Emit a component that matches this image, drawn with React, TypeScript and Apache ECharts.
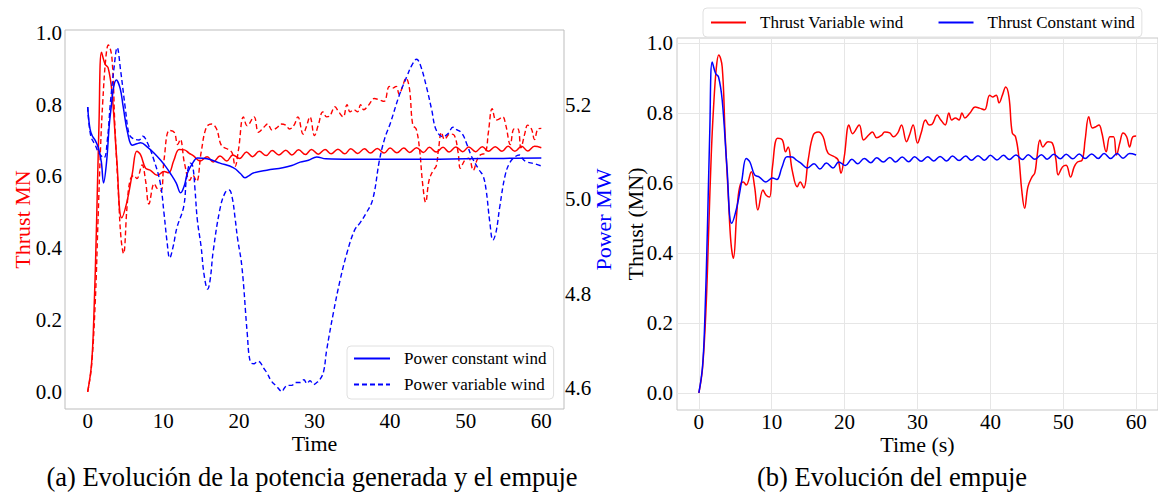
import React, { useEffect, useRef } from "react";
import * as echarts from "echarts";

// ---- Data ----
const timeTicks = [0, 10, 20, 30, 40, 50, 60];
const thrustTicks = [0, 0.2, 0.4, 0.6, 0.8, 1.0];
const powerTicks = [4.6, 4.8, 5.0, 5.2];

const thrustConstTime = [
  0, 0.5, 0.8, 1.17, 1.5, 1.83, 2.3, 2.7, 3.2, 3.85, 4.5, 5.2, 5.9, 6.5, 7.0, 7.65, 8.3, 9.2, 10.1, 10.7, 11.4,
  12.1, 12.8, 13.4, 14.0, 14.9, 15.8, 16.6, 17.5, 18.4, 19.2, 20.1, 21.0, 21.8, 22.7, 23.6, 24.4, 25.3, 26.2,
  27.0, 27.9, 28.8, 29.6, 30.5, 31.4, 32.2, 33.1, 34.0, 34.8, 35.7, 36.6, 37.4, 38.3, 39.2, 40.0, 40.9, 41.8,
  42.6, 43.5, 44.4, 45.2, 46.1, 47.0, 47.8, 48.7, 49.6, 50.4, 51.3, 52.2, 53.0, 53.9, 54.8, 55.6, 56.5, 57.4,
  58.2, 59.1, 60.0,
];
const thrustConstValues = [
  0, 0.075, 0.2, 0.466, 0.75, 0.946, 0.913, 0.903, 0.837, 0.647, 0.485, 0.53, 0.608, 0.67, 0.66, 0.623, 0.617,
  0.603, 0.614, 0.61, 0.645, 0.675, 0.674, 0.665, 0.657, 0.643, 0.655, 0.64, 0.657, 0.643, 0.66, 0.65, 0.668,
  0.655, 0.67, 0.658, 0.672, 0.66, 0.673, 0.66, 0.674, 0.661, 0.675, 0.662, 0.675, 0.663, 0.676, 0.663, 0.677,
  0.664, 0.677, 0.665, 0.678, 0.665, 0.679, 0.666, 0.679, 0.667, 0.68, 0.667, 0.681, 0.668, 0.681, 0.668, 0.682,
  0.669, 0.682, 0.669, 0.683, 0.67, 0.683, 0.67, 0.684, 0.67, 0.684, 0.671, 0.684, 0.68,
];

const thrustVarTime = [
  0, 0.5, 1.0, 1.35, 1.7, 2.0, 2.4, 2.73, 3.2, 3.6, 4.07, 4.4, 4.74, 5.2, 5.6, 6.1, 6.5, 7.2, 7.65, 8.1, 8.8, 9.2,
  9.7, 10.1, 10.8, 11.45, 11.9, 12.25, 12.8, 13.5, 13.9, 14.4, 15.0, 15.7, 16.4, 17.05, 17.7, 18.6, 19.1, 19.5,
  19.95, 20.6, 21.1, 22.0, 22.6, 23.3, 23.8, 24.4, 25.1, 25.5, 26.2, 26.7, 27.3, 27.8, 28.5, 28.9, 29.4, 30.0,
  30.5, 31.1, 31.6, 32.0, 32.7, 33.2, 33.8, 34.3, 34.7, 35.2, 35.7, 36.1, 36.5, 37.2, 37.9, 38.5, 39.2, 39.9,
  40.3, 40.8, 41.2, 41.65, 42.1, 42.55, 43.0, 43.45, 43.9, 44.3, 44.7, 45.15, 45.7, 46.1, 46.4, 46.8, 47.2,
  47.9, 48.5, 49.0, 49.3, 49.9, 50.4, 51.0, 51.5, 51.95, 52.6, 53.0, 53.5, 54.0, 54.4, 54.9, 55.3, 55.9, 56.4,
  56.9, 57.3, 57.8, 58.2, 58.7, 59.1, 59.55, 60.0,
];
const thrustVarValues = [
  0, 0.07, 0.25, 0.466, 0.68, 0.81, 0.93, 0.966, 0.932, 0.74, 0.551, 0.43, 0.385, 0.514, 0.589, 0.603, 0.594,
  0.632, 0.589, 0.523, 0.58, 0.566, 0.56, 0.646, 0.728, 0.723, 0.689, 0.703, 0.637, 0.589, 0.603, 0.586, 0.666,
  0.737, 0.746, 0.732, 0.686, 0.675, 0.666, 0.628, 0.675, 0.766, 0.741, 0.766, 0.723, 0.737, 0.746, 0.729, 0.737,
  0.746, 0.743, 0.732, 0.743, 0.766, 0.718, 0.737, 0.766, 0.714, 0.743, 0.78, 0.766, 0.768, 0.794, 0.78, 0.766,
  0.8, 0.78, 0.786, 0.78, 0.8, 0.786, 0.8, 0.817, 0.814, 0.809, 0.851, 0.846, 0.851, 0.829, 0.851, 0.874, 0.846,
  0.743, 0.732, 0.675, 0.58, 0.528, 0.589, 0.617, 0.629, 0.675, 0.723, 0.703, 0.718, 0.714, 0.666, 0.623, 0.646,
  0.651, 0.617, 0.646, 0.66, 0.666, 0.723, 0.789, 0.757, 0.76, 0.766, 0.743, 0.689, 0.732, 0.732, 0.68, 0.718,
  0.743, 0.732, 0.703, 0.732, 0.734,
];

const powerConstTime = [
  0, 0.3, 0.6, 1.0, 1.4, 1.8, 2.1, 2.5, 3.0, 3.8, 4.3, 4.7, 5.3, 5.9, 6.5, 7.0, 7.9, 8.8, 9.6, 10.3, 10.9, 11.7,
  12.3, 12.8, 13.2, 14.0, 14.5, 15.8, 17.5, 19.3, 20.2, 20.8, 21.3, 21.9, 23.7, 25.8, 27.0, 28.1, 29.2, 30.3,
  31.5, 35.0, 40.0, 45.0, 50.0, 55.0, 60.0,
];
const powerConstValues = [
  5.196, 5.15, 5.135, 5.125, 5.11, 5.08, 5.035, 5.08, 5.18, 5.253, 5.235, 5.196, 5.14, 5.115, 5.118, 5.12, 5.111,
  5.098, 5.084, 5.07, 5.056, 5.035, 5.014, 5.03, 5.056, 5.08, 5.088, 5.086, 5.077, 5.067, 5.055, 5.046, 5.05,
  5.056, 5.062, 5.067, 5.072, 5.079, 5.083, 5.09, 5.086, 5.085, 5.085, 5.085, 5.086, 5.087, 5.088,
];

const powerVarTime = [
  0, 0.4, 1.0, 1.5, 2.15, 2.6, 3.0, 3.5, 3.9, 4.35, 5.0, 5.45, 5.9, 6.8, 7.3, 7.9, 8.75, 9.6, 10.1, 10.5, 10.85,
  11.3, 11.8, 12.7, 13.1, 13.6, 13.9, 14.2, 14.5, 15.0, 15.4, 15.87, 16.2, 16.6, 17.5, 18.2, 18.7, 19.1, 19.5,
  19.8, 20.4, 21.1, 21.5, 22.0, 22.5, 22.8, 23.3, 23.7, 24.3, 25.0, 25.7, 26.0, 26.4, 27.0, 27.5, 28.1, 28.6,
  29.0, 29.4, 29.9, 30.3, 30.7, 31.2, 31.6, 32.5, 33.4, 34.3, 35.3, 36.0, 36.8, 37.7, 38.6, 39.3, 40.0, 41.2,
  42.2, 42.9, 43.5, 44.0, 44.8, 45.5, 46.1, 47.0, 47.7, 48.3, 48.8, 49.5, 50.2, 50.8, 51.8, 52.3, 52.7, 53.2,
  53.6, 54.0, 54.5, 55.2, 55.8, 56.5, 57.1, 57.6, 58.0, 59.0, 60.0,
];
const powerVarValues = [
  5.196, 5.135, 5.115, 5.098, 5.088, 5.126, 5.204, 5.281, 5.322, 5.274, 5.19, 5.14, 5.13, 5.126, 5.134, 5.12,
  5.084, 5.035, 4.97, 4.91, 4.876, 4.9, 4.94, 4.985, 5.048, 5.077, 5.07, 5.02, 4.957, 4.9, 4.84, 4.81, 4.83,
  4.89, 4.98, 5.015, 5.02, 5.005, 4.96, 4.92, 4.857, 4.717, 4.656, 4.652, 4.657, 4.655, 4.642, 4.633, 4.615,
  4.604, 4.593, 4.6, 4.606, 4.606, 4.612, 4.612, 4.618, 4.61, 4.616, 4.608, 4.612, 4.618, 4.635, 4.68, 4.76,
  4.83, 4.887, 4.935, 4.95, 4.97, 5.0, 5.084, 5.13, 5.16, 5.22, 5.26, 5.285, 5.297, 5.285, 5.239, 5.19, 5.147,
  5.133, 5.14, 5.153, 5.148, 5.14, 5.115, 5.09, 5.062, 5.05, 5.02, 4.95, 4.914, 4.93, 4.984, 5.05, 5.077, 5.09,
  5.094, 5.085, 5.08, 5.076, 5.071,
];

const FONT = "Liberation Serif";
const RED = "#ff0000";
const BLUE = "#0000ff";

const zip = (t: number[], v: number[]) => t.map((x, i) => [x, v[i]]);

const tickText = { fontFamily: FONT, fontSize: 21, color: "#000" };

function buildOption(): any {
  const legendCommon = {
    backgroundColor: "#ffffff",
    borderColor: "#e0e0e0",
    borderWidth: 1,
    borderRadius: 4,
    itemStyle: { opacity: 0 },
    textStyle: { fontFamily: FONT, fontSize: 17, color: "#000", padding: [0, 0, 0, 9] },
  };
  const xLabel = { ...tickText, lineHeight: 16, margin: 3.5, customValues: timeTicks, formatter: (v: number) => String(v) };
  const xName = { fontFamily: FONT, fontSize: 22, lineHeight: 16, color: "#000" };
  return {
    animation: false,
    backgroundColor: "#ffffff",
    grid: [
      { left: 65, top: 30, width: 499, height: 379, show: true, borderColor: "#bdbdbd", borderWidth: 1, backgroundColor: "transparent" },
      { left: 677, top: 38, width: 490, height: 372, show: true, borderColor: "#c8c8c8", borderWidth: 1, backgroundColor: "transparent" },
    ],
    xAxis: [
      {
        type: "value", gridIndex: 0, min: -3, max: 63,
        axisLine: { show: false }, axisTick: { show: false, customValues: timeTicks },
        axisLabel: xLabel,
        splitLine: { show: false },
        name: "Time", nameLocation: "middle", nameGap: 26, nameMoveOverlap: false,
        nameTextStyle: xName,
      },
      {
        type: "value", gridIndex: 1, min: -3, max: 63,
        axisLine: { show: false }, axisTick: { show: false, customValues: timeTicks },
        axisLabel: xLabel,
        splitLine: { show: true, lineStyle: { color: "#e6e6e6", width: 1 } },
        name: "Time (s)", nameLocation: "middle", nameGap: 26, nameMoveOverlap: false,
        nameTextStyle: xName,
      },
    ],
    yAxis: [
      {
        type: "value", gridIndex: 0, min: -0.048, max: 1.008,
        axisLine: { show: false }, axisTick: { show: false, customValues: thrustTicks },
        axisLabel: { ...tickText, margin: 3, customValues: thrustTicks, formatter: (v: number) => v.toFixed(1) },
        splitLine: { show: false },
        name: "Thrust MN", nameLocation: "middle", nameGap: 32, nameMoveOverlap: false,
        nameTextStyle: { fontFamily: FONT, fontSize: 22, color: RED },
      },
      {
        type: "value", gridIndex: 0, position: "right", min: 4.556, max: 5.359,
        axisLine: { show: false }, axisTick: { show: false, customValues: powerTicks },
        axisLabel: { ...tickText, margin: 1, customValues: powerTicks, formatter: (v: number) => v.toFixed(1) },
        splitLine: { show: false },
        name: "Power MW", nameLocation: "middle", nameGap: 28, nameMoveOverlap: false,
        nameTextStyle: { fontFamily: FONT, fontSize: 22, color: BLUE },
      },
      {
        type: "value", gridIndex: 1, min: -0.0486, max: 1.0143,
        axisLine: { show: false }, axisTick: { show: false, customValues: thrustTicks },
        axisLabel: { ...tickText, margin: 4, customValues: thrustTicks, formatter: (v: number) => v.toFixed(1) },
        splitLine: { show: true, lineStyle: { color: "#e6e6e6", width: 1 } },
        name: "Thrust (MN)", nameLocation: "middle", nameGap: 31, nameMoveOverlap: false,
        nameTextStyle: { fontFamily: FONT, fontSize: 22, color: "#000" },
      },
    ],
    legend: [
      {
        ...legendCommon,
        data: ["Power constant wind", "Power variable wind"],
        orient: "vertical", left: 347, top: 346,
        itemWidth: 36, itemHeight: 12, itemGap: 9,
        padding: [4, 7, 6, 6],
      },
      {
        ...legendCommon,
        data: ["Thrust Variable wind", "Thrust Constant wind"],
        orient: "horizontal", left: 703, top: 8,
        itemWidth: 35, itemHeight: 12, itemGap: 34,
        padding: [6, 7, 6, 7],
      },
    ],
    graphic: [
      {
        type: "text", x: 312, y: 477,
        style: { text: "(a) Evolución de la potencia generada y el empuje", fontFamily: FONT, fontSize: 26.5, fill: "#000", align: "center", verticalAlign: "middle" },
      },
      {
        type: "text", x: 892, y: 477,
        style: { text: "(b) Evolución del empuje", fontFamily: FONT, fontSize: 26.5, fill: "#000", align: "center", verticalAlign: "middle" },
      },
    ],
    series: [
      {
        name: "Thrust constant wind (a)", type: "line", xAxisIndex: 0, yAxisIndex: 0,
        data: zip(thrustConstTime, thrustConstValues), symbol: "none", smooth: 0.4,
        lineStyle: { color: RED, width: 1.5 }, itemStyle: { color: RED },
      },
      {
        name: "Thrust variable wind (a)", type: "line", xAxisIndex: 0, yAxisIndex: 0,
        data: zip(thrustVarTime, thrustVarValues), symbol: "none", smooth: 0.4,
        lineStyle: { color: RED, width: 1.4, type: [5, 3] }, itemStyle: { color: RED },
      },
      {
        name: "Power constant wind", type: "line", xAxisIndex: 0, yAxisIndex: 1,
        data: zip(powerConstTime, powerConstValues), symbol: "none", smooth: 0.4,
        lineStyle: { color: BLUE, width: 1.5 }, itemStyle: { color: BLUE },
      },
      {
        name: "Power variable wind", type: "line", xAxisIndex: 0, yAxisIndex: 1,
        data: zip(powerVarTime, powerVarValues), symbol: "none", smooth: 0.4,
        lineStyle: { color: BLUE, width: 1.4, type: [5, 3] }, itemStyle: { color: BLUE },
      },
      {
        name: "Thrust Variable wind", type: "line", xAxisIndex: 1, yAxisIndex: 2,
        data: zip(thrustVarTime, thrustVarValues), symbol: "none", smooth: 0.4,
        lineStyle: { color: RED, width: 1.5 }, itemStyle: { color: RED },
      },
      {
        name: "Thrust Constant wind", type: "line", xAxisIndex: 1, yAxisIndex: 2,
        data: zip(thrustConstTime, thrustConstValues), symbol: "none", smooth: 0.4,
        lineStyle: { color: BLUE, width: 1.5 }, itemStyle: { color: BLUE },
      },
    ],
  };
}

export default function App() {
  const ref = useRef<HTMLDivElement>(null);
  useEffect(() => {
    if (!ref.current) return;
    const chart = echarts.init(ref.current, null, { renderer: "svg" });
    chart.setOption(buildOption());
    return () => chart.dispose();
  }, []);
  return (
    <div
      ref={ref}
      style={{ position: "absolute", left: 0, top: 0, width: 1158, height: 492 }}
    />
  );
}
